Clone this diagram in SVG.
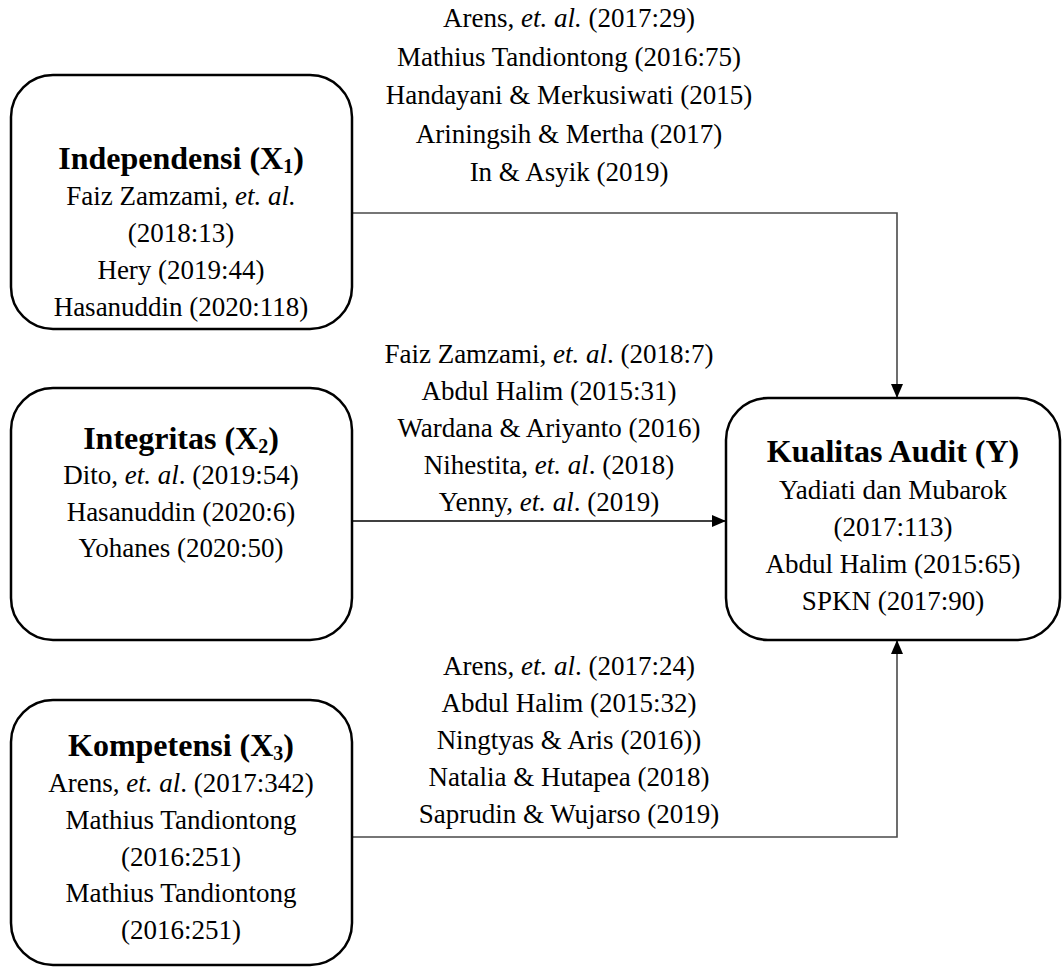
<svg xmlns="http://www.w3.org/2000/svg" width="1062" height="967" viewBox="0 0 1062 967">
<style>
.box{fill:#fff;stroke:#000;stroke-width:2.5}
.t{font-family:"Liberation Serif","Times New Roman",serif;font-size:27px;fill:#000;text-anchor:middle}
.h{font-family:"Liberation Serif","Times New Roman",serif;font-size:32px;font-weight:bold;fill:#000;text-anchor:middle}
.sub{font-size:20px}
.c{fill:none;stroke:#000;stroke-width:1.6}
.g{stroke:#4a4a4a}
</style>
<defs>
<marker id="arr" markerWidth="14" markerHeight="12" refX="14" refY="6" orient="auto" markerUnits="userSpaceOnUse">
<path d="M0,0 L14,6 L0,12 Z" fill="#000"/>
</marker>
</defs>
<rect width="1062" height="967" fill="#fff"/>
<g id="connectors">
<path class="c g" d="M352,213 H897 V398" marker-end="url(#arr)"/>
<path class="c" d="M352,521 H726" marker-end="url(#arr)"/>
<path class="c g" d="M352,837 H897 V640" marker-end="url(#arr)"/>
</g>
<g id="label-x1">
<text class="t" x="569" y="27">Arens, <tspan font-style="italic">et. al.</tspan> (2017:29)</text>
<text class="t" x="569" y="65.5">Mathius Tandiontong (2016:75)</text>
<text class="t" x="569" y="104">Handayani &amp; Merkusiwati (2015)</text>
<text class="t" x="569" y="142.5">Ariningsih &amp; Mertha (2017)</text>
<text class="t" x="569" y="181">In &amp; Asyik (2019)</text>
</g>
<g id="label-x2">
<text class="t" x="549" y="363">Faiz Zamzami, <tspan font-style="italic">et. al</tspan>. (2018:7)</text>
<text class="t" x="549" y="400">Abdul Halim (2015:31)</text>
<text class="t" x="549" y="437">Wardana &amp; Ariyanto (2016)</text>
<text class="t" x="549" y="474">Nihestita, <tspan font-style="italic">et. al</tspan>. (2018)</text>
<text class="t" x="549" y="511">Yenny, <tspan font-style="italic">et. al</tspan>. (2019)</text>
</g>
<g id="label-x3">
<text class="t" x="569" y="675">Arens, <tspan font-style="italic">et. al</tspan>. (2017:24)</text>
<text class="t" x="569" y="712">Abdul Halim (2015:32)</text>
<text class="t" x="569" y="749">Ningtyas &amp; Aris (2016))</text>
<text class="t" x="569" y="786">Natalia &amp; Hutapea (2018)</text>
<text class="t" x="569" y="823">Saprudin &amp; Wujarso (2019)</text>
</g>
<g id="node-x1">
<rect class="box" x="11" y="75" width="341" height="254" rx="42"/>
<text class="h" x="181" y="169">Independensi (X<tspan class="sub" dy="4">1</tspan><tspan dy="-4">)</tspan></text>
<text class="t" x="181" y="205">Faiz Zamzami, <tspan font-style="italic">et. al.</tspan></text>
<text class="t" x="181" y="242">(2018:13)</text>
<text class="t" x="181" y="279">Hery (2019:44)</text>
<text class="t" x="181" y="316">Hasanuddin (2020:118)</text>
</g>
<g id="node-x2">
<rect class="box" x="11" y="388" width="341" height="252" rx="42"/>
<text class="h" x="181" y="449">Integritas (X<tspan class="sub" dy="4">2</tspan><tspan dy="-4">)</tspan></text>
<text class="t" x="181" y="484">Dito, <tspan font-style="italic">et. al</tspan>. (2019:54)</text>
<text class="t" x="181" y="521">Hasanuddin (2020:6)</text>
<text class="t" x="181" y="557">Yohanes (2020:50)</text>
</g>
<g id="node-x3">
<rect class="box" x="11" y="700" width="341" height="265" rx="42"/>
<text class="h" x="181" y="756">Kompetensi (X<tspan class="sub" dy="4">3</tspan><tspan dy="-4">)</tspan></text>
<text class="t" x="181" y="792">Arens, <tspan font-style="italic">et. al</tspan>. (2017:342)</text>
<text class="t" x="181" y="829">Mathius Tandiontong</text>
<text class="t" x="181" y="866">(2016:251)</text>
<text class="t" x="181" y="902">Mathius Tandiontong</text>
<text class="t" x="181" y="939">(2016:251)</text>
</g>
<g id="node-y">
<rect class="box" x="726" y="398" width="334" height="242" rx="42"/>
<text class="h" x="893" y="462">Kualitas Audit (Y)</text>
<text class="t" x="893" y="499">Yadiati dan Mubarok</text>
<text class="t" x="893" y="536">(2017:113)</text>
<text class="t" x="893" y="573">Abdul Halim (2015:65)</text>
<text class="t" x="893" y="610">SPKN (2017:90)</text>
</g>
</svg>
